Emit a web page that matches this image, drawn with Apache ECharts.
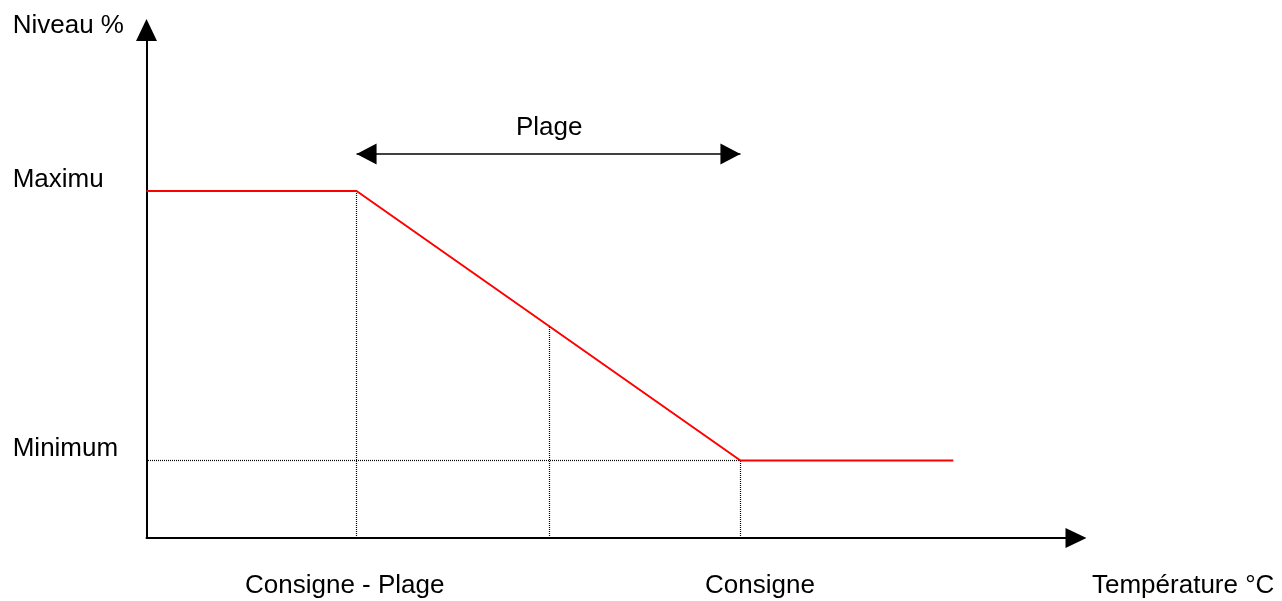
<!DOCTYPE html>
<html>
<head>
<meta charset="utf-8">
<script src="https://cdn.jsdelivr.net/npm/echarts@6/dist/echarts.min.js"></script>
<style>
html,body{margin:0;padding:0;background:#fff;}
#chart{width:1282px;height:601px;}
</style>
</head>
<body>
<div id="chart"></div>
<script>
// Key x positions (arbitrary temperature units, axis 0..100)
const xKeys = { start: 0, consigneMoinsPlage: 22.6, milieu: 43.3, consigne: 63.9, fin: 86.8 };
// Levels (axis 0..100)
const levels = { maximum: 68.3, milieu: 41.8, minimum: 15.25, plageArrow: 75.6 };

// Red response curve
const curveX = [xKeys.start, xKeys.consigneMoinsPlage, xKeys.consigne, xKeys.fin];
const curveY = [levels.maximum, levels.maximum, levels.minimum, levels.minimum];

// Dotted guide segments [[x1,y1],[x2,y2]]
const verticalGuides = [
  [[xKeys.consigneMoinsPlage, 0], [xKeys.consigneMoinsPlage, levels.maximum]],
  [[xKeys.milieu, 0], [xKeys.milieu, levels.milieu]],
  [[xKeys.consigne, 0], [xKeys.consigne, levels.minimum]]
];
const horizontalGuides = [
  [[xKeys.start, levels.minimum], [xKeys.consigne, levels.minimum]]
];

// Text labels
const yAxisTitle = 'Niveau %';
const xAxisTitle = 'Température °C';
const yLabels = ['Maximu', 'Minimum'];
const xLabels = ['Consigne - Plage', 'Consigne'];
const rangeLabel = 'Plage';

const chart = echarts.init(document.getElementById('chart'), null, { renderer: 'canvas' });
const font = '"Liberation Sans", Arial, sans-serif';
const fs = 26;
function txt(text, x, y) {
  return { type: 'text', x: x, y: y, silent: true,
    style: { text: text, fontSize: fs, fontFamily: font, fill: '#000', align: 'left', verticalAlign: 'middle' } };
}

chart.setOption({
  animation: false,
  backgroundColor: '#fff',
  grid: { left: 146.5, right: 206, top: 30, bottom: 63 },
  xAxis: {
    type: 'value', min: 0, max: 100,
    axisLine: { show: true, onZero: false, symbol: ['none', 'triangle'], symbolSize: [20, 21],
      lineStyle: { color: '#000', width: 2 } },
    axisTick: { show: false }, axisLabel: { show: false }, splitLine: { show: false }
  },
  yAxis: {
    type: 'value', min: 0, max: 100,
    axisLine: { show: true, onZero: false, symbol: ['none', 'triangle'], symbolSize: [21, 22],
      lineStyle: { color: '#000', width: 2 } },
    axisTick: { show: false }, axisLabel: { show: false }, splitLine: { show: false }
  },
  series: [
    {
      type: 'lines', coordinateSystem: 'cartesian2d', silent: true, z: 1,
      lineStyle: { color: '#000', width: 1.2, type: [1, 1], opacity: 1 },
      data: verticalGuides.map(g => ({ coords: g }))
    },
    {
      type: 'lines', coordinateSystem: 'cartesian2d', silent: true, z: 1,
      lineStyle: { color: '#000', width: 1.2, type: [1, 1], dashOffset: 0.5, opacity: 1 },
      data: horizontalGuides.map(g => ({ coords: g }))
    },
    {
      type: 'line', silent: true, z: 3, symbol: 'none',
      lineStyle: { color: '#ff0000', width: 2 },
      data: curveX.map((x, i) => [x, curveY[i]]),
      markLine: {
        silent: true, animation: false,
        symbol: ['triangle', 'triangle'], symbolSize: [21, 20],
        symbolOffset: [[0, 10], [0, 10]],
        label: { show: false },
        lineStyle: { color: '#000', width: 1.5, type: 'solid' },
        emphasis: { disabled: true },
        data: [[{ coord: [xKeys.consigneMoinsPlage, levels.plageArrow] }, { coord: [xKeys.consigne, levels.plageArrow] }]]
      }
    }
  ],
  graphic: [
    txt(yAxisTitle, 12.7, 26),
    txt(yLabels[0], 12.7, 180),
    txt(yLabels[1], 12.7, 448.5),
    txt(rangeLabel, 516, 128),
    txt(xLabels[0], 245, 586),
    txt(xLabels[1], 705, 586),
    txt(xAxisTitle, 1092, 586)
  ]
});
</script>
</body>
</html>
